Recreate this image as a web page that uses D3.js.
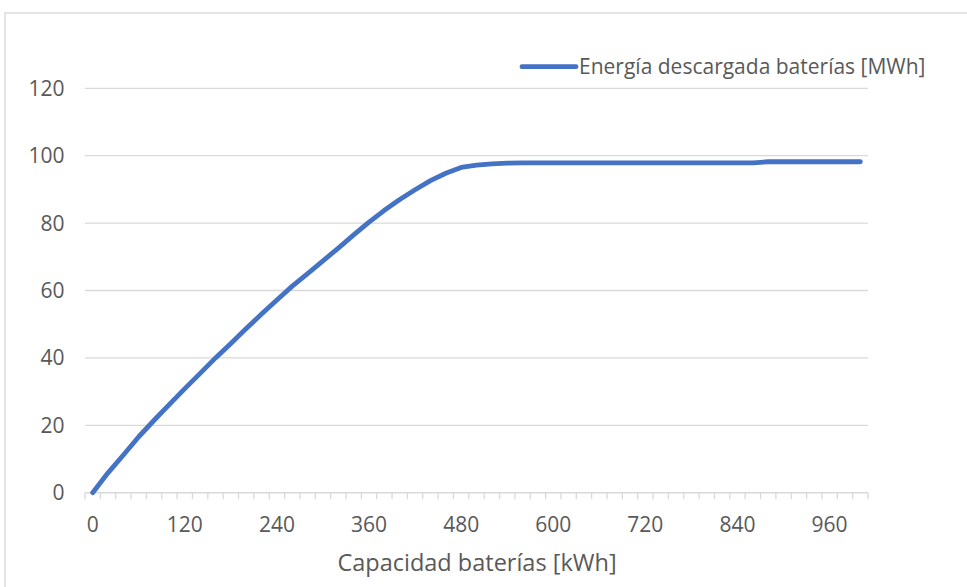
<!DOCTYPE html>
<html>
<head>
<meta charset="utf-8">
<script src="https://cdn.jsdelivr.net/npm/d3@7"></script>
<style>
  html, body { margin: 0; padding: 0; background: #fff; }
  svg { display: block; font-family: "Open Sans", sans-serif; }
</style>
</head>
<body>
<svg id="chart" width="967" height="587"></svg>
<script>
// Battery capacity categories [kWh], 0 to 1000 in steps of 20
const capacities = [
  0, 20, 40, 60, 80, 100, 120, 140, 160, 180,
  200, 220, 240, 260, 280, 300, 320, 340, 360, 380,
  400, 420, 440, 460, 480, 500, 520, 540, 560, 580,
  600, 620, 640, 660, 680, 700, 720, 740, 760, 780,
  800, 820, 840, 860, 880, 900, 920, 940, 960, 980, 1000
];

// Energy discharged by the batteries [MWh]
const energyDischarged = [
  0, 5.9, 11.2, 16.6, 21.5, 26.2, 30.9, 35.4, 40.0, 44.3,
  48.7, 53.0, 57.2, 61.3, 65.0, 68.8, 72.6, 76.5, 80.3, 83.8,
  87.0, 89.9, 92.6, 94.8, 96.5, 97.2, 97.6, 97.8, 97.9, 97.9,
  97.9, 97.9, 97.9, 97.9, 97.9, 97.9, 97.9, 97.9, 97.9, 97.9,
  97.9, 97.9, 97.9, 97.9, 98.2, 98.2, 98.2, 98.2, 98.2, 98.2, 98.2
];

const xTickLabels = [0, 120, 240, 360, 480, 600, 720, 840, 960];
const yTickLabels = [0, 20, 40, 60, 80, 100, 120];

const seriesName = "Energía descargada baterías [MWh]";
const xTitle = "Capacidad baterías [kWh]";

const svg = d3.select("#chart");
const textColor = "#595959";
const gridColor = "#d9d9d9";
const lineColor = "#4472c4";

const plot = { left: 85, right: 868, top: 88.3, bottom: 492.7 };

// chart area frame
svg.append("rect")
  .attr("x", 5).attr("y", 13)
  .attr("width", 1000).attr("height", 620)
  .attr("fill", "none")
  .attr("stroke", gridColor)
  .attr("stroke-width", 1.4);

// category axis: each capacity gets one band, the line runs through band centres
const x = d3.scaleBand()
  .domain(capacities)
  .range([plot.left, plot.right])
  .paddingInner(0).paddingOuter(0);
const xc = d => x(d) + x.bandwidth() / 2;

const y = d3.scaleLinear()
  .domain([0, 120])
  .range([plot.bottom, plot.top]);

// horizontal gridlines
svg.append("g")
  .selectAll("line")
  .data(yTickLabels.filter(v => v > 0))
  .join("line")
  .attr("x1", plot.left).attr("x2", plot.right)
  .attr("y1", d => y(d)).attr("y2", d => y(d))
  .attr("stroke", gridColor)
  .attr("stroke-width", 1.3);

// y tick labels
svg.append("g")
  .selectAll("text")
  .data(yTickLabels)
  .join("text")
  .attr("x", 64.5)
  .attr("y", d => y(d) + 7.5)
  .attr("text-anchor", "end")
  .attr("font-size", 21)
  .attr("fill", textColor)
  .text(d => d);

// x axis line with tick marks between categories
const xAxis = svg.append("g");
xAxis.append("line")
  .attr("x1", plot.left).attr("x2", plot.right)
  .attr("y1", plot.bottom).attr("y2", plot.bottom)
  .attr("stroke", gridColor)
  .attr("stroke-width", 1.4);
const boundaries = capacities.map(c => x(c)).concat([plot.right]);
xAxis.selectAll("line.tick")
  .data(boundaries)
  .join("line")
  .attr("class", "tick")
  .attr("x1", d => d).attr("x2", d => d)
  .attr("y1", plot.bottom).attr("y2", plot.bottom + 6.5)
  .attr("stroke", gridColor)
  .attr("stroke-width", 1.3);

// x tick labels
xAxis.selectAll("text")
  .data(xTickLabels)
  .join("text")
  .attr("x", d => xc(d))
  .attr("y", 532)
  .attr("text-anchor", "middle")
  .attr("font-size", 21)
  .attr("fill", textColor)
  .text(d => d);

// x axis title
svg.append("text")
  .attr("x", 477)
  .attr("y", 571)
  .attr("text-anchor", "middle")
  .attr("font-size", 23.5)
  .attr("fill", textColor)
  .text(xTitle);

// data line
const line = d3.line()
  .x((d, i) => xc(capacities[i]))
  .y(d => y(d));
svg.append("path")
  .datum(energyDischarged)
  .attr("d", line)
  .attr("fill", "none")
  .attr("stroke", lineColor)
  .attr("stroke-width", 4.8)
  .attr("stroke-linejoin", "round")
  .attr("stroke-linecap", "round");

// legend
const legend = svg.append("g");
legend.append("line")
  .attr("x1", 522).attr("x2", 576)
  .attr("y1", 66.7).attr("y2", 66.7)
  .attr("stroke", lineColor)
  .attr("stroke-width", 4.8)
  .attr("stroke-linecap", "round");
legend.append("text")
  .attr("x", 579)
  .attr("y", 73.5)
  .attr("font-size", 21)
  .attr("fill", textColor)
  .text(seriesName);
</script>
</body>
</html>
